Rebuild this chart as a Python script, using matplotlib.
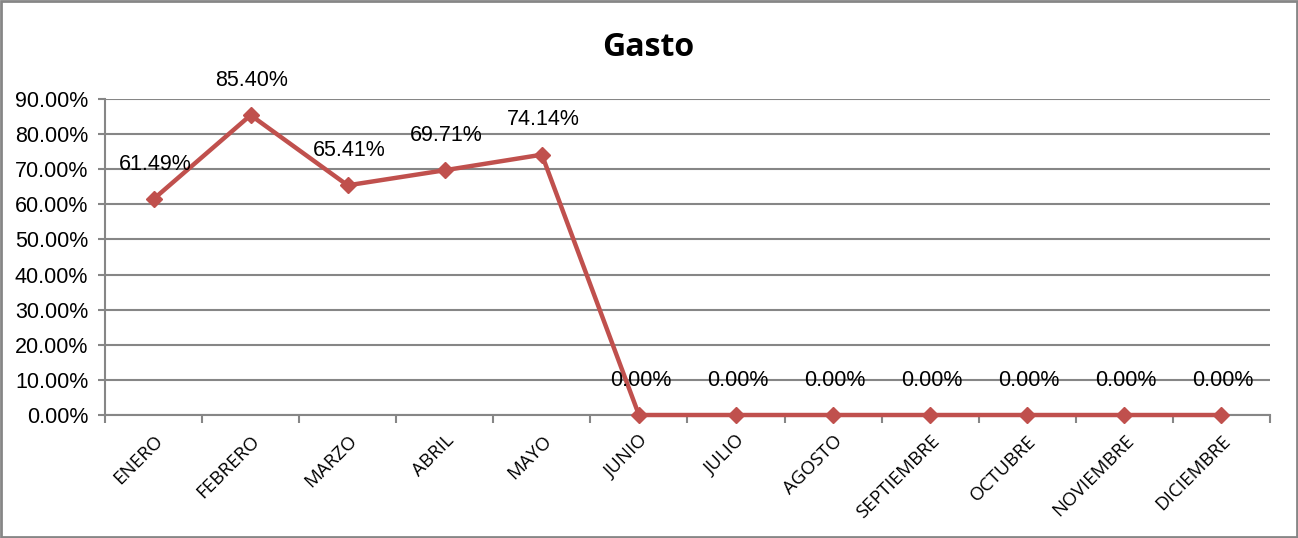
import matplotlib
matplotlib.use("Agg")
import matplotlib.pyplot as plt
from matplotlib.ticker import FuncFormatter, FixedLocator
from matplotlib.patches import Rectangle

meses = ['ENERO', 'FEBRERO', 'MARZO', 'ABRIL', 'MAYO', 'JUNIO', 'JULIO',
         'AGOSTO', 'SEPTIEMBRE', 'OCTUBRE', 'NOVIEMBRE', 'DICIEMBRE']
gasto = [61.49, 85.40, 65.41, 69.71, 74.14, 0, 0, 0, 0, 0, 0, 0]
y_ticks = [0, 10, 20, 30, 40, 50, 60, 70, 80, 90]

rojo = '#C0504D'
gris = '#868686'

fig = plt.figure(figsize=(12.98, 5.38), dpi=100)
ax = fig.add_axes([0.0809, 0.2286, 0.8975, 0.5874])

x = list(range(len(meses)))
ax.plot(x, gasto, color=rojo, linewidth=3.2, marker='D', markersize=8,
        markeredgecolor=rojo, zorder=3, clip_on=False)

# etiquetas de datos
for xi, v in zip(x, gasto):
    ax.annotate(f'{v:.2f}%', (xi, v), xytext=(1, 25), textcoords='offset points',
                ha='center', va='center', fontsize=15.5, family='Liberation Sans')

ax.set_xlim(-0.5, len(meses) - 0.5)
ax.set_ylim(0, 90)
ax.set_yticks(y_ticks)
ax.yaxis.set_major_formatter(FuncFormatter(lambda v, p: f'{v:.2f}%'))
ax.grid(axis='y', color=gris, linewidth=1.5)
ax.set_axisbelow(True)

ax.set_xticks(x)
ax.set_xticklabels(meses, rotation=45, ha='right', rotation_mode='anchor',
                   fontsize=13.5, family='Open Sans')
ax.xaxis.set_minor_locator(FixedLocator([i - 0.5 for i in range(len(meses) + 1)]))
ax.tick_params(axis='x', which='major', length=0, pad=12)
ax.tick_params(axis='x', which='minor', length=6, width=1.5, color=gris)
ax.tick_params(axis='y', length=5, width=1.5, color=gris, labelsize=15.5, pad=7)
for lab in ax.get_yticklabels():
    lab.set_family('Liberation Sans')

for s in ['top', 'right']:
    ax.spines[s].set_visible(False)
for s in ['left', 'bottom']:
    ax.spines[s].set_color(gris)
    ax.spines[s].set_linewidth(1.5)

fig.text(0.499, 0.912, 'Gasto', ha='center', va='center', fontsize=23,
         fontweight='bold', family='Open Sans')

fig.patches.append(Rectangle((0.001, 0.002), 0.998, 0.996, transform=fig.transFigure,
                             fill=False, edgecolor=gris, linewidth=2))

fig.savefig('out.png', dpi=100)
